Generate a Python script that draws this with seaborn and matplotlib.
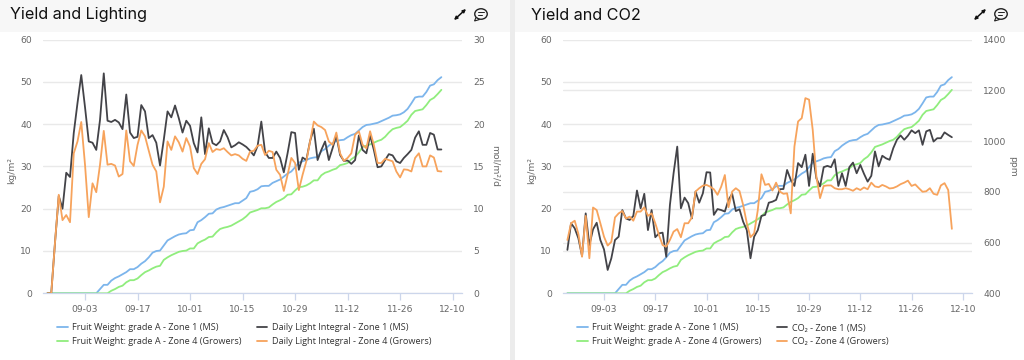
import pandas as pd
import seaborn as sns
import matplotlib
matplotlib.use("Agg")
import matplotlib.pyplot as plt
import matplotlib.dates as mdates
from matplotlib.patches import Rectangle, Ellipse, FancyArrowPatch, Polygon

W, H = 1024, 360

dates = pd.date_range("2020-08-24", periods=106, freq="D")
tick_dates = pd.date_range("2020-09-03", periods=8, freq="14D")

# yield, kg/m2
fruit_z1 = [0] * 14 + [1, 2, 2, 3, 3.6, 4, 4.5, 5, 5.7, 5.7, 6.2, 7, 7.6, 8.5, 9.6, 10, 10.1, 11.3, 12.5, 13, 13.5,
    13.9, 14.1, 14.2, 14.9, 15, 16.8, 17.3, 18, 18.8, 18.9, 19.8, 20.2, 20.4, 20.7, 21, 21.3, 21.3, 21.9, 22.5, 24,
    24.2, 24.6, 25.3, 25.4, 25.4, 26.1, 26.5, 26.9, 27.6, 28.3, 28.8, 29.8, 30.9, 31.2, 31.5, 31.9, 32.1, 32.2, 33.6,
    34.1, 34.9, 35.5, 36, 36.2, 36.3, 36.9, 37.4, 37.7, 38.5, 39.3, 39.8, 39.9, 40.1, 40.3, 40.7, 41.1, 41.5, 42, 42.1,
    42.3, 42.8, 43.6, 44.9, 46.3, 46.5, 46.5, 47.6, 49.1, 49.4, 50.4, 51.1]
fruit_z4 = [0] * 17 + [0.6, 1, 1.5, 1.8, 2.6, 3.1, 3.1, 3.5, 4.3, 5, 5.4, 5.9, 6.3, 6.5, 7.9, 8.5, 9, 9.4, 9.8, 10, 10.1,
    10.6, 10.6, 11.8, 12.3, 12.7, 13.3, 13.4, 14.4, 15.2, 15.5, 15.7, 16, 16.5, 17, 17.5, 18.2, 19.1, 19.4, 19.7, 20.1,
    20.1, 20.3, 21, 21.6, 22, 22.5, 23.3, 23.4, 24.3, 25.1, 25.2, 25.5, 26, 26.7, 26.7, 27.9, 28.5, 28.8, 29.2, 29.5,
    30.3, 30.5, 30.8, 31.7, 32.3, 33.3, 34.6, 34.9, 35.2, 35.6, 36, 36.3, 37, 38, 38.8, 39.1, 39.3, 40, 40.8, 42.2,
    43.1, 43.3, 43.5, 44.5, 45.7, 46.2, 47.1, 48.1]

# daily light integral, mol/m2/d
dli_z1 = [0, 0, 6, 11.5, 10, 14.25, 13.75, 18.95, 22.5, 25.8, 22, 17.95, 17.8, 16.95, 20.5, 26, 20.4, 20.25, 20.5, 20.2,
    19.4, 23.5, 19, 18.35, 18.5, 22.25, 21.5, 18.35, 18.7, 17.8, 15.1, 18.15, 21.5, 20.8, 22.2, 20.7, 19, 20.4, 19.8,
    17.75, 16.65, 20.8, 16.45, 19.5, 17.75, 17.5, 17.95, 19.3, 18.45, 17.25, 17.5, 17.85, 17.6, 17.3, 16.85, 16.3, 17.4,
    20.3, 16.7, 16, 16, 16.75, 16, 14.3, 16.55, 19.05, 18.95, 14.6, 16.05, 15.75, 18, 19.45, 15.75, 16.95, 17.95, 15.75,
    17.15, 18.65, 16.35, 15.65, 15.7, 15.3, 15.75, 18.65, 16.95, 16.55, 18.65, 16.95, 14.9, 15, 15.75, 16.45, 16.3, 15.6,
    15.4, 16, 16.45, 16.95, 18.4, 19.15, 17.55, 17.55, 18.95, 18.75, 17, 17]
dli_z4 = [0, 0, 6, 11.65, 8.65, 9.25, 8.4, 16.55, 17.95, 20.25, 15.2, 9, 13, 11.95, 15.2, 19.2, 15.2, 15.3, 15.1, 13.8,
    14.1, 19.25, 15.6, 15.05, 17.55, 19.25, 18.55, 16.85, 15.2, 14.4, 10.75, 12.6, 17.95, 16.95, 18.55, 17.85, 16.75,
    18.35, 17.35, 14.8, 14.1, 15.3, 15.85, 17.75, 16.7, 17.05, 16.95, 17.15, 16.7, 16.3, 16.45, 16.3, 15.9, 15.65, 16.75,
    16.85, 17.45, 17.55, 16.35, 16.85, 16.7, 14.6, 14, 12.1, 14, 16, 15.4, 12.2, 14, 15.6, 17.95, 20.3, 19.85, 19.65,
    19.3, 17.95, 17.55, 19, 16.55, 15.65, 16, 16.55, 18.75, 19.15, 17.55, 17.15, 19.15, 17.55, 15.4, 15.4, 15.9, 15.75,
    15.6, 14.4, 13.7, 14.65, 14.6, 14.4, 16, 16.55, 15, 15, 16.3, 16.05, 14.45, 14.4]

# CO2, ppm
co2_z1 = [571, 676, 656, 617, 547, 715, 590, 652, 678, 610, 573, 492, 538, 610, 623, 728, 695, 689, 705, 805, 735, 792,
    649, 728, 621, 636, 639, 544, 748, 873, 978, 735, 777, 755, 695, 801, 757, 794, 877, 876, 709, 732, 728, 722, 768,
    792, 724, 731, 682, 649, 538, 623, 649, 705, 709, 757, 761, 768, 810, 811, 886, 847, 823, 913, 897, 946, 823, 950,
    853, 821, 897, 902, 897, 928, 823, 873, 823, 897, 915, 873, 906, 871, 840, 863, 959, 900, 942, 932, 926, 972, 1005,
    1022, 1005, 1021, 1042, 1031, 1042, 985, 1038, 1044, 998, 1011, 1011, 1034, 1024, 1015]
co2_z4 = [610, 676, 686, 634, 544, 705, 538, 738, 728, 676, 623, 588, 603, 699, 715, 724, 695, 702, 686, 722, 722, 739,
    705, 715, 676, 630, 590, 584, 610, 643, 653, 621, 676, 676, 699, 801, 814, 824, 827, 820, 810, 788, 820, 866, 739,
    801, 814, 803, 748, 676, 621, 636, 728, 869, 827, 831, 805, 836, 801, 792, 794, 715, 978, 1077, 1090, 1169, 1163,
    1044, 860, 775, 823, 825, 825, 814, 810, 810, 814, 810, 804, 814, 807, 817, 810, 836, 821, 818, 827, 821, 813, 815,
    821, 830, 836, 844, 823, 829, 814, 800, 802, 814, 792, 788, 825, 834, 807, 654]

kg_ticks = [0, 10, 20, 30, 40, 50, 60]
dli_ticks = [0, 5, 10, 15, 20, 25, 30]
co2_ticks = [400, 600, 800, 1000, 1200, 1400]

BLUE, GREEN, DARK, ORANGE = "#7cb5ec", "#90ed7d", "#434348", "#f7a35c"
GRID = "#e9e9e9"
AXIS = "#ccd6eb"
TICK_TXT = "#666666"

sns.set_theme(style="white")
plt.rcParams["font.family"] = ["DejaVu Sans"]

fig = plt.figure(figsize=(W / 100, H / 100), dpi=100, facecolor="white")


def fx(px):
    return px / W


def fy(py):
    return 1 - py / H


def add_icons(cx_arrow, cx_bubble):
    # the two small header buttons
    fig.add_artist(FancyArrowPatch((fx(cx_arrow - 6), fy(20)), (fx(cx_arrow + 6), fy(9)), transform=fig.transFigure,
                                   arrowstyle="<|-|>", mutation_scale=4.5, lw=1.1, color="#111111", shrinkA=0, shrinkB=0))
    fig.add_artist(Ellipse((fx(cx_bubble), fy(14)), 12.5 / W, 10.5 / H, transform=fig.transFigure, fill=False,
                           ec="#222222", lw=1.0))
    fig.add_artist(Polygon([(fx(cx_bubble - 5), fy(17.5)), (fx(cx_bubble - 6.5), fy(21)), (fx(cx_bubble - 1.5), fy(19.5))],
                           closed=True, transform=fig.transFigure, fc="white", ec="#222222", lw=0.8))
    for off, half in [(12.3, 3), (15, 2)]:
        fig.add_artist(plt.Line2D([fx(cx_bubble - 3), fx(cx_bubble - 3 + 2 * half)], [fy(off), fy(off)],
                                  transform=fig.transFigure, color="#222222", lw=0.7))


def panel(left_px, right_px, panel_x0, panel_x1, title, title_x, series2, names2, ticks2, ylim2, label2, label2_x,
          legend_x, col_gap, icons):
    # header strip
    fig.add_artist(Rectangle((fx(panel_x0), fy(32)), (panel_x1 - panel_x0) / W, 32 / H, transform=fig.transFigure,
                             fc="#f7f7f7", ec="none", zorder=-5))
    fig.text(fx(title_x), fy(15), title, family="Inter", fontsize=11.65, color="#111111", va="center", ha="left")
    add_icons(*icons)

    ax = fig.add_axes([fx(left_px), fy(293.3), (right_px - left_px) / W, 253.8 / H])
    sns.lineplot(x=dates, y=fruit_z1, ax=ax, color=BLUE, lw=1.3, errorbar=None, legend=False)
    sns.lineplot(x=dates, y=fruit_z4, ax=ax, color=GREEN, lw=1.3, errorbar=None, legend=False)
    ax.set_ylim(0, 60)
    ax.set_yticks(kg_ticks)
    ax.set_xlim(pd.Timestamp("2020-09-03") - pd.Timedelta(days=11.2), pd.Timestamp("2020-09-03") + pd.Timedelta(days=100.5))
    ax.set_xticks(tick_dates)
    ax.xaxis.set_major_formatter(mdates.DateFormatter("%m-%d"))
    ax.grid(axis="y", color=GRID, lw=1.0)
    # the second axis has its own grid lines, drawn on the first axis so they stay under the curves
    if ylim2[0] != 0:
        ax.set_yticks([(t - ylim2[0]) / (ylim2[1] - ylim2[0]) * 60 for t in ticks2[1:-1]], minor=True)
        ax.grid(axis="y", which="minor", color=GRID, lw=1.0)
        ax.tick_params(axis="y", which="minor", length=0)
    ax.set_axisbelow(True)
    ax.tick_params(axis="y", length=0, pad=8, labelsize=6.6, labelcolor=TICK_TXT)
    ax.tick_params(axis="x", length=5, width=0.9, color=AXIS, pad=3.5, labelsize=6.6, labelcolor=TICK_TXT, bottom=True)
    for side in ["top", "left", "right"]:
        ax.spines[side].set_visible(False)
    ax.spines["bottom"].set_color(AXIS)
    ax.spines["bottom"].set_linewidth(0.9)
    ax.set_xlabel("")
    ax.set_ylabel("")

    ax2 = ax.twinx()
    sns.lineplot(x=dates, y=series2[0], ax=ax2, color=DARK, lw=1.3, errorbar=None, legend=False)
    sns.lineplot(x=dates, y=series2[1], ax=ax2, color=ORANGE, lw=1.3, errorbar=None, legend=False)
    ax2.set_ylim(*ylim2)
    ax2.set_yticks(ticks2)
    ax2.grid(False)
    ax2.tick_params(axis="y", length=0, pad=8, labelsize=6.6, labelcolor=TICK_TXT)
    for side in ["top", "left", "right", "bottom"]:
        ax2.spines[side].set_visible(False)
    ax2.set_xlabel("")
    ax2.set_ylabel("")

    fig.text(fx(left_px - 31), fy(170), "kg/m²", rotation=90, fontsize=6.6, color=TICK_TXT, ha="center", va="center")
    fig.text(fx(label2_x), fy(166), label2, rotation=270, fontsize=6.6, color=TICK_TXT, ha="center", va="center")

    handles = list(ax.lines) + list(ax2.lines)
    labels = ["Fruit Weight: grade A - Zone 1 (MS)", "Fruit Weight: grade A - Zone 4 (Growers)"] + names2
    fig.legend(handles, labels, ncol=2, loc="upper left", bbox_to_anchor=(fx(legend_x), fy(323.5)), frameon=False,
               prop={"family": ["Open Sans", "DejaVu Sans"], "size": 6.55}, labelcolor="#333333", borderpad=0,
               borderaxespad=0, handlelength=1.2, handletextpad=0.5, labelspacing=0.5, columnspacing=col_gap)


panel(43, 462, 0, 510, "Yield and Lighting", 10, (dli_z1, dli_z4),
      ["Daily Light Integral - Zone 1 (MS)", "Daily Light Integral - Zone 4 (Growers)"], dli_ticks, (0, 30), "mol/m²/d",
      495, 57, 1.6, (460, 481))
panel(563, 972, 515, 1024, "Yield and CO2", 531, (co2_z1, co2_z4),
      ["CO₂ - Zone 1 (MS)", "CO₂ - Zone 4 (Growers)"], co2_ticks, (400, 1400), "ppm",
      1013, 577, 1.6, (980, 1001))

# gap between the two cards
fig.add_artist(Rectangle((fx(510), 0), 5 / W, 1, transform=fig.transFigure, fc="#ececec", ec="none"))

fig.savefig("out.png", dpi=100)
